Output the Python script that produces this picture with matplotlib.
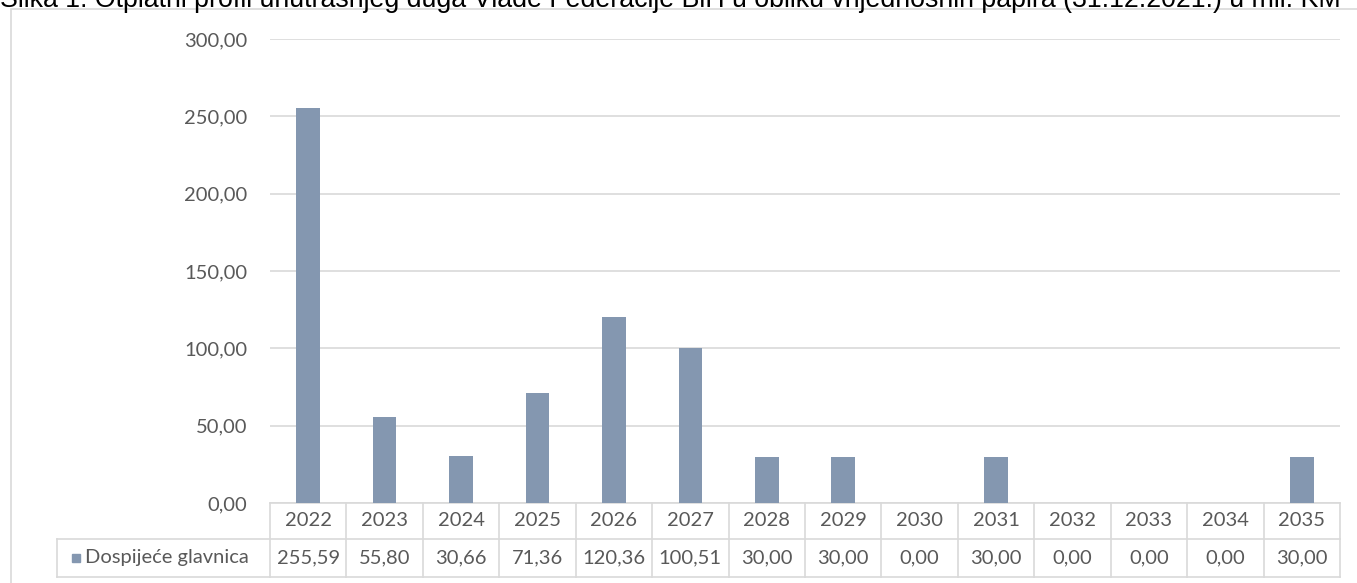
import matplotlib.pyplot as plt
import matplotlib.patches as mpatches

years = ["2022", "2023", "2024", "2025", "2026", "2027", "2028",
         "2029", "2030", "2031", "2032", "2033", "2034", "2035"]
values = [255.59, 55.80, 30.66, 71.36, 120.36, 100.51, 30.00,
          30.00, 0.00, 30.00, 0.00, 0.00, 0.00, 30.00]
series_name = "Dospijeće glavnica"
title = ("Slika 1: Otplatni profil unutrašnjeg duga Vlade Federacije BiH "
         "u obliku vrijednosnih papira (31.12.2021.) u mil. KM")

W, H = 1357, 583
bar_color = "#8497B0"
grid_color = "#D9D9D9"
text_color = "#595959"
font = "Lato"
fs = 14.5


def fmt(v):
    return f"{v:.2f}".replace(".", ",")


fig = plt.figure(figsize=(W / 100, H / 100), dpi=100)
fig.patch.set_facecolor("white")

# outer chart border
fig.add_artist(mpatches.Rectangle((11 / W, -0.1), (1380 - 11) / W, 1 - 9.5 / H + 0.1,
                                  transform=fig.transFigure, fill=False,
                                  edgecolor=grid_color, linewidth=1.2))

fig.text(0.0, 1 - 7 / H, title, family="Liberation Sans", fontsize=19.3,
         color="black", ha="left", va="baseline")

left, right, top, bottom = 270, 1340, 39, 503
ax = fig.add_axes([left / W, 1 - bottom / H, (right - left) / W, (bottom - top) / H])

x = list(range(len(years)))
ax.bar(x, values, width=0.31, color=bar_color, zorder=3)
ax.set_xlim(-0.5, len(years) - 0.5)
ax.set_ylim(0, 300)
ax.set_yticks(range(0, 301, 50))
ax.set_yticklabels([fmt(v) for v in range(0, 301, 50)], family=font,
                   fontsize=fs, color=text_color)
ax.tick_params(axis="y", length=0, pad=16.5)
ax.tick_params(axis="x", length=0, labelbottom=False)
ax.grid(axis="y", color=grid_color, linewidth=1.2, zorder=0)
for s in ax.spines.values():
    s.set_visible(False)

# data table below the axis
px_x = (right - left) / len(years)
label_left = -0.5 - (left - 57) / px_x
row1 = -(539 - bottom) / (bottom - top)
row2 = -(577 - bottom) / (bottom - top)
tr = ax.get_xaxis_transform()
lk = dict(transform=tr, color=grid_color, linewidth=1.2, clip_on=False)

ax.plot([-0.5, len(years) - 0.5], [0, 0], **lk)
ax.plot([label_left, len(years) - 0.5], [row1, row1], **lk)
ax.plot([label_left, len(years) - 0.5], [row2, row2], **lk)
ax.plot([label_left, label_left], [row1, row2], **lk)
for i in range(len(years) + 1):
    ax.plot([i - 0.5, i - 0.5], [0, row2], **lk)

for i, (yr, v) in enumerate(zip(years, values)):
    ax.text(i, row1 / 2, yr, transform=tr, ha="center", va="center",
            family=font, fontsize=fs, color=text_color, clip_on=False)
    ax.text(i, (row1 + row2) / 2, fmt(v), transform=tr, ha="center", va="center",
            family=font, fontsize=fs, color=text_color, clip_on=False)

sq = 8 / px_x
ax.add_patch(mpatches.Rectangle((label_left + 15 / px_x, (row1 + row2) / 2 - 4 / (bottom - top)),
                                sq, 8 / (bottom - top), transform=tr,
                                color=bar_color, clip_on=False))
ax.text(label_left + 28 / px_x, (row1 + row2) / 2, series_name, transform=tr,
        ha="left", va="center", family=font, fontsize=fs, color=text_color,
        clip_on=False)

fig.savefig("out.png", dpi=100)
